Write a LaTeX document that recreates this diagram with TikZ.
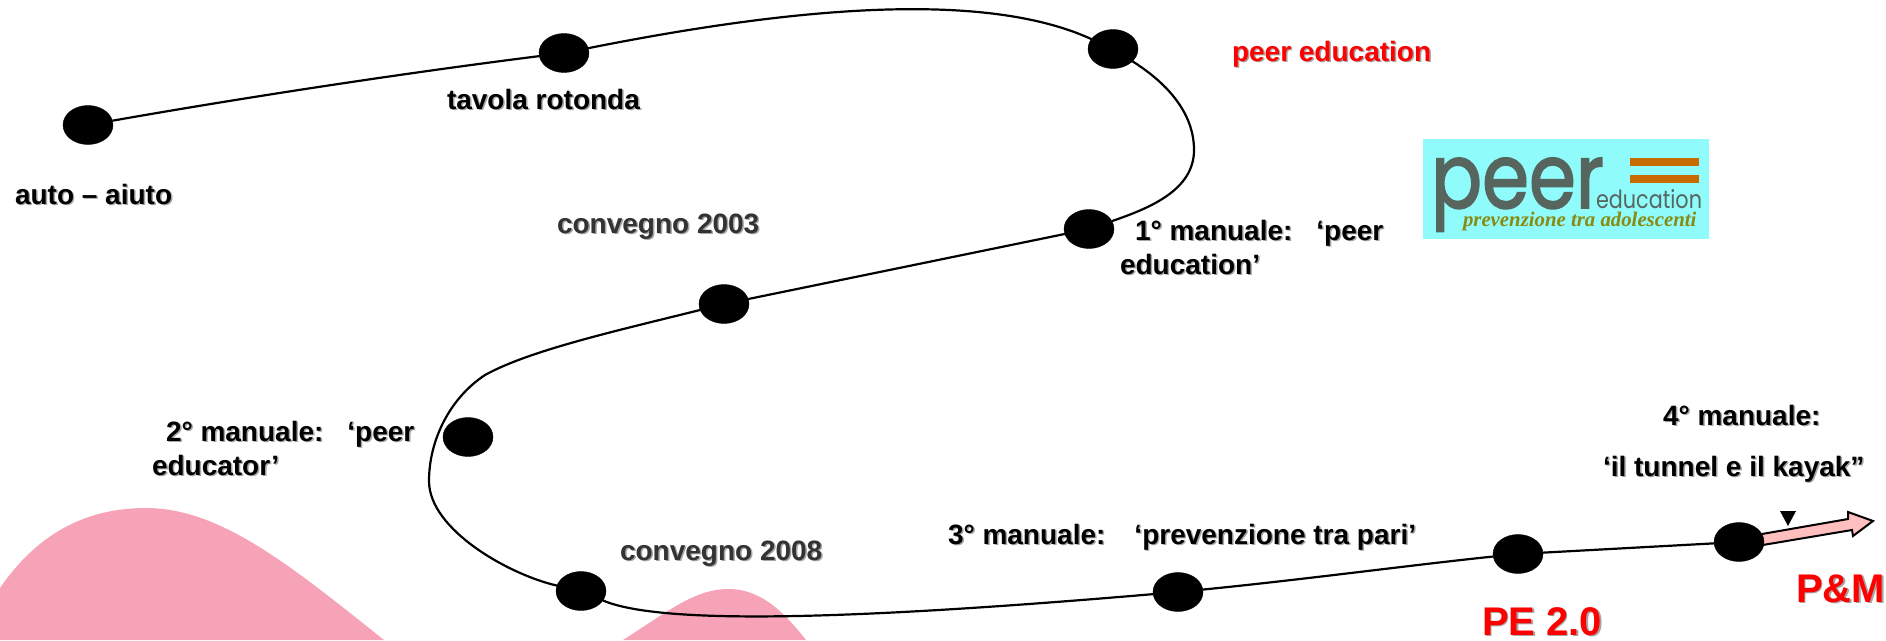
\documentclass[tikz,border=0pt]{standalone}
\usepackage{fontspec}
\setmainfont{Liberation Sans}
\newfontfamily\logofont{Poppins}
\newfontfamily\logofat[FakeBold=2]{Poppins}
\newfontfamily\mottofont{Liberation Serif}
\usetikzlibrary{shapes.geometric}
\definecolor{blobpink}{HTML}{F6A2B7}
\definecolor{logocyan}{HTML}{8FFBFB}
\definecolor{logogrey}{HTML}{56665F}
\definecolor{logobar}{HTML}{C96C00}
\definecolor{logomotto}{HTML}{8A8A10}
\newcommand{\shtext}[1]{\leavevmode\rlap{\kern1.5pt\raisebox{-1.5pt}{\color{black!35}#1}}#1}

\begin{document}
\begin{tikzpicture}[x=1pt,y=-1pt]
\tikzstyle{every node}=[inner sep=0pt, outer sep=0pt]
\tikzstyle{stop}=[draw=black, fill=black, ellipse, minimum width=50pt, minimum height=39pt]
\tikzstyle{caption}=[anchor=base west, font=\bfseries\fontsize{28}{34}\selectfont]
\tikzstyle{dim}=[caption, text=black!80]
\tikzstyle{big}=[caption, text=red, font=\bfseries\fontsize{40}{46}\selectfont]
\tikzstyle{route}=[line width=2.2pt]
\useasboundingbox (0,0) rectangle (1886,640);
\fill[blobpink] (0,588) .. controls (40,530) and (90,508) .. (146,508) .. controls (220,508) and (290,565) .. (384,640) -- (0,640) -- cycle;
\fill[blobpink] (623,640) .. controls (670,610) and (695,589) .. (729,589) .. controls (765,589) and (790,620) .. (806,640) -- cycle;
\draw[line width=2pt, fill=pink] (1739,538) -- (1848,519) -- (1848,512) -- (1873,521) -- (1853,536) -- (1852,530) -- (1739,549) -- cycle;
\draw (88,125) node (v1) [stop] {};
\draw (564,53) node (v2) [stop] {};
\draw (1113,49) node (v3) [stop] {};
\draw (1089,229) node (v4) [stop] {};
\draw (724,304) node (v5) [stop] {};
\draw (468,437) node (v6) [stop] {};
\draw (581,591) node (v7) [stop] {};
\draw (1178,592) node (v8) [stop] {};
\draw (1518,554) node (v9) [stop] {};
\draw (1739,542) node (v10) [stop] {};
\coordinate (c1) at (1194,150);
\coordinate (c2) at (429,481);
\coordinate (c3) at (485,375);
\draw[route] (v1) .. controls (247,97) and (405,73) .. (v2);
\draw[route] (v2) .. controls (780,10) and (980,-12) .. (v3);
\draw[route] (v3) .. controls (1170,85) and (1194,115) .. (c1) .. controls (1194,190) and (1150,208) .. (v4);
\draw[route] (v4) -- (v5);
\draw[route] (v5) .. controls (620,330) and (530,350) .. (c3) .. controls (450,398) and (429,440) .. (c2) .. controls (429,530) and (510,575) .. (v7);
\draw[route] (v7) .. controls (660,625) and (850,620) .. (v8);
\draw[route] (v8) .. controls (1300,580) and (1420,564) .. (v9);
\draw[route] (v9) -- (v10);
\fill[black] (1780,511) -- (1796,511) -- (1788,526) -- cycle;
\node (autoaiuto) [caption] at (15,204) {\shtext{auto – aiuto}};
\node (tavola) [caption] at (447,109) {\shtext{tavola rotonda}};
\node (peered) [caption, text=red] at (1232,61) {\shtext{peer education}};
\node (conv3) [dim] at (557,233) {\shtext{convegno 2003}};
\node (conv8) [dim] at (620,560) {\shtext{convegno 2008}};
\node (man1) [caption, anchor=west, align=left] at (1120,248) {\hspace*{15pt}\shtext{1° manuale:\hspace{24pt}‘peer}\\\shtext{education’}};
\node (man2) [caption, anchor=west, align=left] at (152,449) {\hspace*{14pt}\shtext{2° manuale:\hspace{24pt}‘peer}\\\shtext{educator’}};
\node (man3) [caption] at (948,544) {\shtext{3° manuale:\hspace{29pt}‘prevenzione tra pari’}};
\node (man4) [caption] at (1663,425) {\shtext{4° manuale:}};
\node (man4b) [caption] at (1603,476) {\shtext{‘il tunnel e il kayak”}};
\node (pe2) [big] at (1482,635) {\shtext{PE 2.0}};
\node (pandm) [big] at (1796,602) {\shtext{P\&M}};
\fill[logocyan] (1423,139) rectangle (1709,239);
\fill[logobar] (1630,158) rectangle (1699,166);
\fill[logobar] (1630,175) rectangle (1699,183);
\node (logopeer) [anchor=base west, text=logogrey] at (1431,208) {\scalebox{.84}[1]{\logofat\fontsize{90}{90}\selectfont peer}};
\node (logoed) [anchor=base west, text=logogrey] at (1596,208) {\scalebox{.83}[1]{\logofont\fontsize{25}{25}\selectfont education}};
\node (logomotto) [anchor=base west, text=logomotto] at (1463,226) {\mottofont\bfseries\itshape\fontsize{20.8}{21}\selectfont prevenzione tra adolescenti};
\end{tikzpicture}
\end{document}
